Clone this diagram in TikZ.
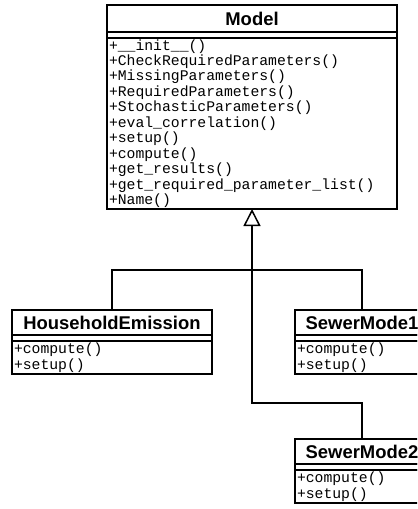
\documentclass[tikz,border=0pt]{standalone}
\usepackage{fontspec}
\newfontfamily\umlsans{Liberation Sans}
\newfontfamily\umlmono{Liberation Mono}
\usetikzlibrary{arrows.meta,positioning}

\begin{document}
\begin{tikzpicture}[
    x=1bp, y=-1bp,
    node distance=0pt,
    box/.style={draw, line width=1.6bp, inner sep=0pt, outer sep=0pt},
    ctitle/.style={box, minimum width=#1, minimum height=25bp,
        font=\umlsans\bfseries\fontsize{18.5}{18.5}\selectfont},
    cattr/.style={box, minimum width=#1, minimum height=6bp},
    cops/.style={box, inner xsep=2bp, align=left, minimum height=33bp,
        font=\umlmono\fontsize{14.8}{15.5}\selectfont},
    edge/.style={line width=1.5bp},
    inherit/.style={edge, -{Triangle[open, length=17bp, width=17bp, line width=1.5bp]}},
]
\useasboundingbox (0,0) rectangle (417,509);
\clip (0,0) rectangle (417,509);

% base class
\node[ctitle=290bp, minimum height=27bp, anchor=north west] (modeltitle) at (107,5) {Model};
\node[cattr=290bp, below=of modeltitle] (modelattr) {};
\node[cops, text width=286bp, minimum height=171bp, below=of modelattr] (modelops)
    {+\_\_init\_\_()\\+CheckRequiredParameters()\\+MissingParameters()\\
     +RequiredParameters()\\+StochasticParameters()\\+eval\_correlation()\\
     +setup()\\+compute()\\+get\_results()\\+get\_required\_parameter\_list()\\+Name()};

% subclasses
\node[ctitle=200bp, anchor=north west] (hhtitle) at (12,310) {HouseholdEmission};
\node[cattr=200bp, below=of hhtitle] (hhattr) {};
\node[cops, text width=196bp, below=of hhattr] (hhops) {+compute()\\+setup()};

\node[ctitle=134bp, anchor=north west] (sm1title) at (295,310) {SewerMode1};
\node[cattr=134bp, below=of sm1title] (sm1attr) {};
\node[cops, text width=130bp, below=of sm1attr] (sm1ops) {+compute()\\+setup()};

\node[ctitle=134bp, anchor=north west] (sm2title) at (295,439) {SewerMode2};
\node[cattr=134bp, below=of sm2title] (sm2attr) {};
\node[cops, text width=130bp, below=of sm2attr] (sm2ops) {+compute()\\+setup()};

% generalization
\coordinate (joint) at (modelops.south |- 0,270);
\coordinate (bend) at (modelops.south |- 0,403);
\draw[inherit] (joint) -- (modelops.south);
\draw[edge] (hhtitle.north) |- (joint) -| (sm1title.north);
\draw[edge] (joint) -- (bend) -| (sm2title.north);
\end{tikzpicture}
\end{document}
